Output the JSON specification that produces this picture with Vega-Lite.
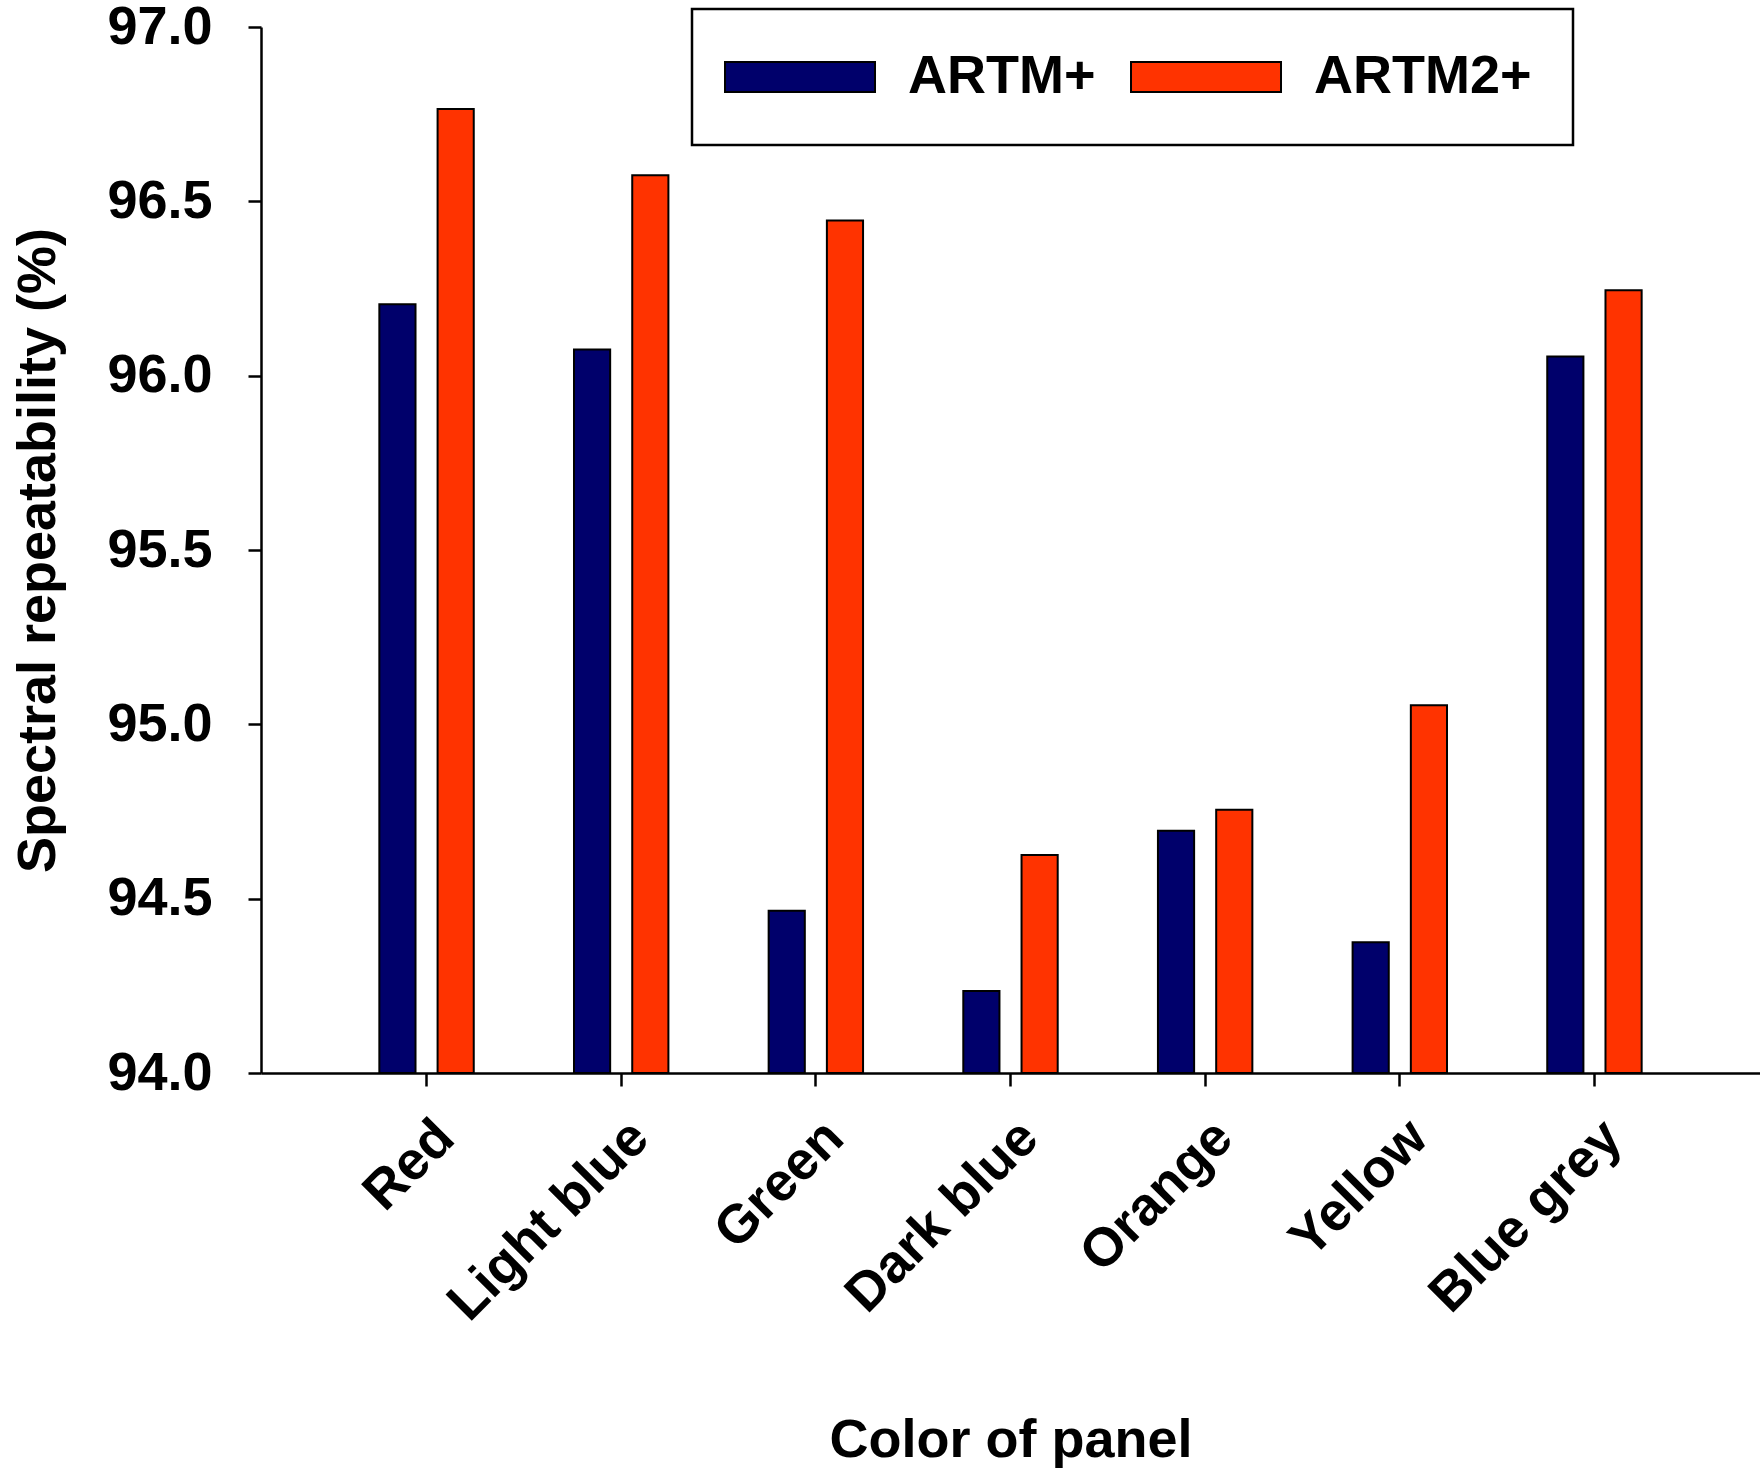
{
  "$schema": "https://vega.github.io/schema/vega-lite/v6.json",
  "width": 1499,
  "height": 1046,
  "autosize": {"type": "none"},
  "padding": {"left": 261, "top": 27, "right": 0, "bottom": 403},
  "background": "white",
  "config": {
    "view": {"stroke": null},
    "font": "Liberation Sans",
    "axis": {
      "grid": false,
      "domainColor": "black",
      "domainWidth": 2.5,
      "tickColor": "black",
      "tickWidth": 2.5,
      "tickSize": 13,
      "labelFont": "Liberation Sans",
      "labelFontWeight": "bold",
      "labelFontSize": 54,
      "labelColor": "black",
      "labelLimit": 0,
      "titleFont": "Liberation Sans",
      "titleFontWeight": "bold",
      "titleFontSize": 54,
      "titleColor": "black"
    },
    "legend": {"strokeWidth": 2.5}
  },
  "data": {
    "values": [
      {"panel": "Red", "series": "ARTM+", "value": 96.205},
      {"panel": "Red", "series": "ARTM2+", "value": 96.765},
      {"panel": "Light blue", "series": "ARTM+", "value": 96.075},
      {"panel": "Light blue", "series": "ARTM2+", "value": 96.575},
      {"panel": "Green", "series": "ARTM+", "value": 94.465},
      {"panel": "Green", "series": "ARTM2+", "value": 96.445},
      {"panel": "Dark blue", "series": "ARTM+", "value": 94.235},
      {"panel": "Dark blue", "series": "ARTM2+", "value": 94.625},
      {"panel": "Orange", "series": "ARTM+", "value": 94.695},
      {"panel": "Orange", "series": "ARTM2+", "value": 94.755},
      {"panel": "Yellow", "series": "ARTM+", "value": 94.375},
      {"panel": "Yellow", "series": "ARTM2+", "value": 95.055},
      {"panel": "Blue grey", "series": "ARTM+", "value": 96.055},
      {"panel": "Blue grey", "series": "ARTM2+", "value": 96.245}
    ]
  },
  "mark": {"type": "bar", "stroke": "black", "strokeWidth": 2},
  "encoding": {
    "x": {
      "field": "panel",
      "type": "nominal",
      "sort": null,
      "scale": {"paddingInner": 0.515, "paddingOuter": 0.608},
      "axis": {
        "title": "Color of panel",
        "labelAngle": -45,
        "labelAlign": "right",
        "labelBaseline": "top",
        "labelPadding": 24,
        "titleBaseline": "top",
        "titleY": 340
      }
    },
    "xOffset": {
      "field": "series",
      "type": "nominal",
      "scale": {"paddingInner": 0.379, "paddingOuter": 0}
    },
    "y": {
      "field": "value",
      "type": "quantitative",
      "scale": {"domain": [94, 97], "zero": false, "nice": false},
      "axis": {
        "title": "Spectral repeatability (%)",
        "values": [94, 94.5, 95, 95.5, 96, 96.5, 97],
        "format": ".1f",
        "labelPadding": 36,
        "titlePadding": 41
      }
    },
    "y2": {"datum": 94},
    "fill": {
      "field": "series",
      "type": "nominal",
      "scale": {"domain": ["ARTM+", "ARTM2+"], "range": ["#00006B", "#FF3300"]},
      "legend": {
        "title": null,
        "orient": "none",
        "direction": "horizontal",
        "legendX": 431,
        "legendY": -18,
        "padding": 41,
        "strokeColor": "black",
        "fillColor": "white",
        "symbolType": "M-2.333,-1L7.667,-1L7.667,1L-2.333,1Z",
        "symbolSize": 900,
        "symbolStrokeColor": "black",
        "symbolStrokeWidth": 2,
        "symbolOpacity": 1,
        "labelFont": "Liberation Sans",
        "labelFontWeight": "bold",
        "labelFontSize": 54,
        "labelColor": "black",
        "labelLimit": 0,
        "labelOffset": 121,
        "columnPadding": 31
      }
    }
  }
}
